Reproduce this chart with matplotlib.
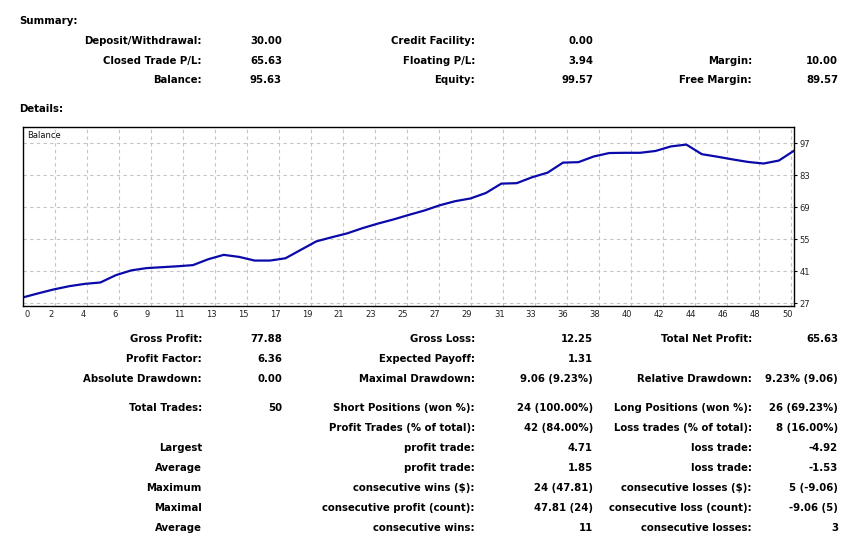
import matplotlib
matplotlib.use("Agg")
import matplotlib.pyplot as plt
import matplotlib.transforms as mtransforms

# balance curve (one point per trade)
trade_no = list(range(0, 51))
balance = [29.5, 31.3, 33.0, 34.4, 35.4, 36.0, 39.2, 41.3, 42.3, 42.7,
           43.1, 43.6, 46.2, 48.1, 47.2, 45.6, 45.6, 46.6, 50.3, 54.0,
           55.8, 57.5, 59.8, 61.8, 63.6, 65.6, 67.5, 69.8, 71.6, 72.8,
           75.2, 79.3, 79.5, 82.1, 84.1, 88.5, 88.7, 91.2, 92.7, 92.8,
           92.8, 93.6, 95.6, 96.4, 92.2, 91.1, 89.9, 88.8, 88.1, 89.4,
           93.8]

x_labels = ["2", "4", "6", "9", "11", "13", "15", "17", "19", "21", "23", "25",
            "27", "29", "31", "33", "36", "38", "40", "42", "44", "46", "48", "50"]
y_ticks = [27, 41, 55, 69, 83, 97]

# summary block: (label, value) per column
summary_c1 = [("Deposit/Withdrawal:", "30.00"), ("Closed Trade P/L:", "65.63"), ("Balance:", "95.63")]
summary_c2 = [("Credit Facility:", "0.00"), ("Floating P/L:", "3.94"), ("Equity:", "99.57")]
summary_c3 = [("", ""), ("Margin:", "10.00"), ("Free Margin:", "89.57")]

details_c1 = [("Gross Profit:", "77.88"), ("Profit Factor:", "6.36"), ("Absolute Drawdown:", "0.00"),
              ("Total Trades:", "50"), ("", ""), ("Largest", ""), ("Average", ""),
              ("Maximum", ""), ("Maximal", ""), ("Average", "")]
details_c2 = [("Gross Loss:", "12.25"), ("Expected Payoff:", "1.31"), ("Maximal Drawdown:", "9.06 (9.23%)"),
              ("Short Positions (won %):", "24 (100.00%)"), ("Profit Trades (% of total):", "42 (84.00%)"),
              ("profit trade:", "4.71"), ("profit trade:", "1.85"),
              ("consecutive wins ($):", "24 (47.81)"), ("consecutive profit (count):", "47.81 (24)"),
              ("consecutive wins:", "11")]
details_c3 = [("Total Net Profit:", "65.63"), ("", ""), ("Relative Drawdown:", "9.23% (9.06)"),
              ("Long Positions (won %):", "26 (69.23%)"), ("Loss trades (% of total):", "8 (16.00%)"),
              ("loss trade:", "-4.92"), ("loss trade:", "-1.53"),
              ("consecutive losses ($):", "5 (-9.06)"), ("consecutive loss (count):", "-9.06 (5)"),
              ("consecutive losses:", "3")]

W, H = 854, 557
fig = plt.figure(figsize=(W / 100, H / 100), dpi=100)
fs = 7.3
txt = dict(fontsize=fs, fontweight="bold", color="#000000", va="center", family="DejaVu Sans")


def put(xpx, ypx, s, ha="right"):
    fig.text(xpx / W, 1 - ypx / H, s, ha=ha, **txt)


def column(rows, ys, xlab, xval):
    for (lab, val), y in zip(rows, ys):
        if lab:
            put(xlab, y, lab)
        if val:
            put(xval, y, val)


put(19, 21, "Summary:", ha="left")
sum_y = [41, 60.5, 80]
column(summary_c1, sum_y, 202, 282)
column(summary_c2, sum_y, 475, 593)
column(summary_c3, sum_y, 752, 838)
put(19, 109, "Details:", ha="left")

det_y = [339, 359, 379, 408, 428, 448, 468, 488, 508, 528]
column(details_c1, det_y, 202, 282)
column(details_c2, det_y, 475, 593)
column(details_c3, det_y, 752, 838)

# chart
left, right, top, bottom = 23.3, 794.3, 127, 306
ax = fig.add_axes([left / W, 1 - bottom / H, (right - left) / W, (bottom - top) / H])
ax.plot(trade_no, balance, color="#0A0AAA", lw=1.6, solid_joinstyle="round")
ax.set_xlim(0, 50)
ax.set_ylim(25.7, 104.1)

step = 32 / ((right - left) / 50)
grid_x = [step * (i + 1) for i in range(len(x_labels))]
ax.set_xticks([0] + grid_x)
ax.set_xticklabels(["0"] + x_labels)
ax.set_yticks(y_ticks)
ax.yaxis.tick_right()
ax.tick_params(axis="x", length=0, pad=3, labelsize=6, labelcolor="#222222")
ax.tick_params(axis="y", length=2.5, width=0.8, pad=1.5, labelsize=6, labelcolor="#222222", direction="out")

for i, lbl in enumerate(ax.get_xticklabels()):
    dx = 3 / 72 if i == 0 else -3 / 72
    lbl.set_transform(lbl.get_transform() + mtransforms.ScaledTranslation(dx, 0, fig.dpi_scale_trans))

for gx in grid_x:
    ax.axvline(gx, color="#C4C4C4", lw=0.8, ls=(0, (3, 3)), zorder=0)
for gy in y_ticks:
    ax.axhline(gy, color="#C4C4C4", lw=0.8, ls=(0, (3, 3)), zorder=0)

for sp in ax.spines.values():
    sp.set_color("#000000")
    sp.set_linewidth(1.0)

ax.text(0.005, 0.955, "Balance", transform=ax.transAxes, fontsize=6, color="#111111",
        ha="left", va="center")

fig.savefig("out.png", dpi=100)
